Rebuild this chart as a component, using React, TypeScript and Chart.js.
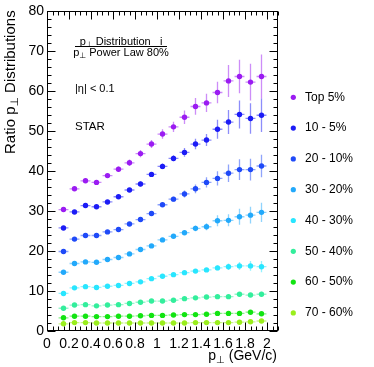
import React, { useEffect, useRef } from "react";
import { Chart, registerables } from "chart.js";

Chart.register(...registerables);

// ---------- data ----------
const xBins = [0.15, 0.25, 0.35, 0.45, 0.55, 0.65, 0.75, 0.85, 0.95, 1.05, 1.15, 1.25, 1.35, 1.45, 1.55, 1.65, 1.75, 1.85, 1.95];
const xHalfWidth = 0.045;

const seriesLabels = ["Top 5%", "10 - 5%", "20 - 10%", "30 - 20%", "40 - 30%", "50 - 40%", "60 - 50%", "70 - 60%"];
const seriesColors = ["#9b1cf2", "#1c1cf6", "#1f4af8", "#22a9fb", "#28e6ff", "#33ee9c", "#12e412", "#9aee1c"];

const top5 = [30.4, 35.6, 37.6, 37.2, 38.9, 40.5, 42.1, 44.4, 46.8, 49.3, 51.1, 53.5, 56.2, 57.1, 59.7, 62.6, 63.7, 62.3, 63.7];
const c10to5 = [25.8, 29.8, 31.4, 31.1, 32.3, 33.6, 35.3, 36.8, 39.2, 41.2, 43.2, 44.7, 46.8, 47.8, 50.5, 52.3, 54.2, 53.2, 54.0];
const c20to10 = [19.9, 23.0, 23.9, 23.9, 24.8, 25.4, 26.8, 27.9, 29.4, 31.6, 33.0, 34.3, 35.6, 37.2, 38.2, 39.5, 40.4, 40.4, 41.3];
const c30to20 = [14.7, 16.9, 17.3, 17.2, 17.9, 18.4, 19.3, 20.4, 21.3, 22.8, 23.7, 24.6, 25.7, 26.1, 27.6, 27.7, 28.6, 29.0, 29.7];
const c40to30 = [9.4, 10.8, 11.1, 10.9, 11.2, 11.4, 11.9, 12.3, 13.1, 13.7, 14.1, 14.6, 15.0, 15.3, 15.8, 16.1, 16.3, 16.3, 16.1];
const c50to40 = [5.7, 6.5, 6.6, 6.3, 6.5, 6.6, 6.9, 7.2, 7.5, 7.5, 7.7, 8.1, 8.3, 8.5, 8.6, 8.6, 9.2, 9.0, 9.2];
const c60to50 = [3.3, 3.7, 3.7, 3.6, 3.6, 3.7, 3.7, 3.8, 3.9, 3.9, 4.0, 4.1, 4.1, 4.2, 4.4, 4.4, 4.4, 4.7, 4.3];
const c70to60 = [1.8, 2.1, 2.1, 2.0, 2.0, 2.0, 2.0, 2.0, 2.0, 2.0, 2.0, 2.0, 2.1, 2.1, 2.1, 2.1, 2.2, 2.3, 2.5];

const top5Err = [0.5, 0.5, 0.5, 0.5, 0.6, 0.7, 0.8, 0.9, 1.0, 1.2, 1.3, 1.7, 2.1, 2.3, 2.7, 4.0, 4.2, 4.6, 5.5];
const c10to5Err = [0.4, 0.4, 0.4, 0.4, 0.4, 0.5, 0.5, 0.6, 0.6, 0.7, 0.8, 1.1, 1.3, 1.5, 2.4, 3.0, 3.5, 3.8, 4.2];
const c20to10Err = [0.3, 0.3, 0.3, 0.3, 0.3, 0.4, 0.4, 0.4, 0.5, 0.5, 0.6, 0.9, 1.1, 1.3, 1.8, 2.2, 2.6, 2.7, 2.8];
const c30to20Err = [0.3, 0.3, 0.3, 0.3, 0.3, 0.3, 0.3, 0.3, 0.4, 0.4, 0.5, 0.6, 0.7, 0.9, 1.4, 1.5, 2.0, 2.1, 2.4];
const c40to30Err = [0.2, 0.2, 0.2, 0.2, 0.2, 0.2, 0.2, 0.3, 0.3, 0.3, 0.3, 0.4, 0.4, 0.5, 0.6, 0.8, 1.0, 1.2, 1.4];
const c50to40Err = [0.2, 0.2, 0.2, 0.2, 0.2, 0.2, 0.2, 0.2, 0.2, 0.2, 0.3, 0.3, 0.3, 0.3, 0.4, 0.4, 0.5, 0.5, 0.6];
const c60to50Err = [0.15, 0.15, 0.15, 0.15, 0.15, 0.15, 0.15, 0.15, 0.15, 0.2, 0.2, 0.2, 0.2, 0.2, 0.25, 0.3, 0.3, 0.35, 0.4];
const c70to60Err = [0.1, 0.1, 0.1, 0.1, 0.1, 0.1, 0.1, 0.1, 0.1, 0.1, 0.15, 0.15, 0.15, 0.15, 0.2, 0.2, 0.2, 0.25, 0.3];

const seriesValues = [top5, c10to5, c20to10, c30to20, c40to30, c50to40, c60to50, c70to60];
const seriesErrors = [top5Err, c10to5Err, c20to10Err, c30to20Err, c40to30Err, c50to40Err, c60to50Err, c70to60Err];

const xTickValues = [0, 0.2, 0.4, 0.6, 0.8, 1, 1.2, 1.4, 1.6, 1.8, 2];
const xTickLabels = ["0", "0.2", "0.4", "0.6", "0.8", "1", "1.2", "1.4", "1.6", "1.8", "2"];
const yTickStep = 10;

// ---------- style ----------
const FONT = "'Liberation Sans', Arial, Helvetica, 'DejaVu Sans', sans-serif";
const W = 374;
const H = 367;

function hexA(hex: string, a: number) {
  const r = parseInt(hex.slice(1, 3), 16);
  const g = parseInt(hex.slice(3, 5), 16);
  const b = parseInt(hex.slice(5, 7), 16);
  return `rgba(${r},${g},${b},${a})`;
}

type Part = { t: string; sub?: boolean };

function richWidth(ctx: CanvasRenderingContext2D, parts: Part[], size: number) {
  let w = 0;
  for (const p of parts) {
    ctx.font = `${p.sub ? size * 0.72 : size}px ${FONT}`;
    w += ctx.measureText(p.t).width;
  }
  return w;
}

function drawRich(ctx: CanvasRenderingContext2D, parts: Part[], x: number, y: number, size: number) {
  ctx.textBaseline = "middle";
  ctx.textAlign = "left";
  let cx = x;
  for (const p of parts) {
    const s = p.sub ? size * 0.72 : size;
    ctx.font = `${s}px ${FONT}`;
    ctx.fillText(p.t, cx, p.sub ? y + size * 0.3 : y);
    cx += ctx.measureText(p.t).width;
  }
}

const errorBarPlugin = {
  id: "errorBars",
  beforeDatasetsDraw(chart: any) {
    const ctx = chart.ctx;
    const xs = chart.scales.x;
    const ys = chart.scales.y;
    ctx.save();
    seriesValues.forEach((vals, si) => {
      const errs = seriesErrors[si];
      ctx.strokeStyle = hexA(seriesColors[si], 0.5);
      ctx.lineWidth = 1.3;
      vals.forEach((v, i) => {
        const px = xs.getPixelForValue(xBins[i]);
        const py = ys.getPixelForValue(v);
        ctx.beginPath();
        ctx.moveTo(px, ys.getPixelForValue(v - errs[i]));
        ctx.lineTo(px, ys.getPixelForValue(v + errs[i]));
        ctx.moveTo(xs.getPixelForValue(xBins[i] - xHalfWidth), py);
        ctx.lineTo(xs.getPixelForValue(xBins[i] + xHalfWidth), py);
        ctx.stroke();
      });
    });
    ctx.restore();
  },
};

const framePlugin = {
  id: "rootFrame",
  afterDraw(chart: any) {
    const ctx: CanvasRenderingContext2D = chart.ctx;
    const xs = chart.scales.x;
    const ys = chart.scales.y;
    const { left, right, top, bottom } = chart.chartArea;
    ctx.save();
    ctx.strokeStyle = "#000";
    ctx.lineWidth = 1;
    const L = Math.round(left) + 0.5;
    const R = Math.round(right) - 0.5;
    const T = Math.round(top) + 0.5;
    const B = Math.round(bottom) - 0.5;
    ctx.strokeRect(L, T, R - L, B - T);
    ctx.beginPath();
    // x ticks
    for (let k = 0; k <= 42; k++) {
      const v = k * 0.05;
      if (v > 2.1 + 1e-9) break;
      const major = k % 4 === 0;
      const len = major ? 8 : 4;
      const px = Math.round(xs.getPixelForValue(v)) + 0.5;
      ctx.moveTo(px, B);
      ctx.lineTo(px, B - len);
      ctx.moveTo(px, T);
      ctx.lineTo(px, T + len);
    }
    // y ticks
    for (let k = 0; k <= 40; k++) {
      const v = k * 2;
      const major = k % 5 === 0;
      const len = major ? 8 : 4;
      const py = Math.round(ys.getPixelForValue(v)) + 0.5;
      ctx.moveTo(L, py);
      ctx.lineTo(L + len, py);
      ctx.moveTo(R, py);
      ctx.lineTo(R - len, py);
    }
    ctx.stroke();

    ctx.fillStyle = "#000";
    // y axis title (rotated)
    ctx.save();
    ctx.translate(11, 154);
    ctx.rotate(-Math.PI / 2);
    drawRich(ctx, [{ t: "Ratio p" }, { t: "\u22A5", sub: true }, { t: " Distributions" }], 0, 0, 15);
    ctx.restore();

    // x axis title, right aligned at frame end
    const xt: Part[] = [{ t: "p" }, { t: "\u22A5", sub: true }, { t: " (GeV/c)" }];
    const xw = richWidth(ctx, xt, 14);
    drawRich(ctx, xt, right - 1 - xw, 356, 14);

    // annotations
    const num: Part[] = [{ t: "p" }, { t: "\u22A5", sub: true }, { t: " Distribution   i" }];
    const den: Part[] = [{ t: "p" }, { t: "\u22A5", sub: true }, { t: " Power Law 80%" }];
    const cxF = 121;
    const nw = richWidth(ctx, num, 11);
    const dw = richWidth(ctx, den, 11);
    drawRich(ctx, num, cxF - nw / 2, 41.5, 11);
    drawRich(ctx, den, cxF - dw / 2, 53, 11);
    ctx.beginPath();
    ctx.lineWidth = 1;
    ctx.moveTo(75, 46.5);
    ctx.lineTo(167, 46.5);
    ctx.stroke();
    drawRich(ctx, [{ t: "|\u03B7| < 0.1" }], 75, 89, 11);
    drawRich(ctx, [{ t: "STAR" }], 75, 127, 11.5);

    // legend
    seriesLabels.forEach((lab, i) => {
      const y = 97.3 + i * 30.8;
      ctx.fillStyle = seriesColors[i];
      ctx.beginPath();
      ctx.arc(293.3, y, 2.6, 0, Math.PI * 2);
      ctx.fill();
      ctx.fillStyle = "#000";
      drawRich(ctx, [{ t: lab }], 305, y, 12);
    });
    ctx.restore();
  },
};

export default function App() {
  const ref = useRef<HTMLCanvasElement | null>(null);
  useEffect(() => {
    if (!ref.current) return;
    const datasets = seriesValues.map((vals, si) => ({
      label: seriesLabels[si],
      data: xBins.map((x, i) => ({ x, y: vals[i] })),
      backgroundColor: seriesColors[si],
      borderColor: seriesColors[si],
      pointRadius: 2.7,
      pointBorderWidth: 0,
      pointHoverRadius: 2.7,
      showLine: false,
    }));
    const chart = new Chart(ref.current, {
      type: "scatter",
      data: { datasets },
      plugins: [errorBarPlugin, framePlugin],
      options: {
        animation: false,
        responsive: false,
        layout: { padding: { left: 0, right: W - 278, top: 10, bottom: 0 } },
        plugins: { legend: { display: false }, tooltip: { enabled: false } },
        scales: {
          x: {
            type: "linear",
            min: 0,
            max: 2.1,
            grid: { display: false, drawTicks: false },
            border: { display: false },
            afterBuildTicks: (s: any) => {
              s.ticks = xTickValues.map((v) => ({ value: v }));
            },
            afterFit: (s: any) => {
              s.height = H - 331;
            },
            ticks: {
              autoSkip: false,
              maxRotation: 0,
              minRotation: 0,
              padding: 5,
              color: "#000",
              font: { family: FONT, size: 14 },
              callback: (_v: any, idx: number) => xTickLabels[idx],
            },
          },
          y: {
            min: 0,
            max: 80,
            grid: { display: false, drawTicks: false },
            border: { display: false },
            afterFit: (s: any) => {
              s.width = 47;
            },
            ticks: {
              stepSize: yTickStep,
              padding: 3,
              color: "#000",
              font: { family: FONT, size: 14 },
            },
          },
        },
      },
    });
    return () => chart.destroy();
  }, []);
  return (
    <div style={{ position: "absolute", left: 0, top: 0, width: W, height: H, background: "#fff" }}>
      <canvas ref={ref} width={W} height={H} style={{ display: "block" }} />
    </div>
  );
}
